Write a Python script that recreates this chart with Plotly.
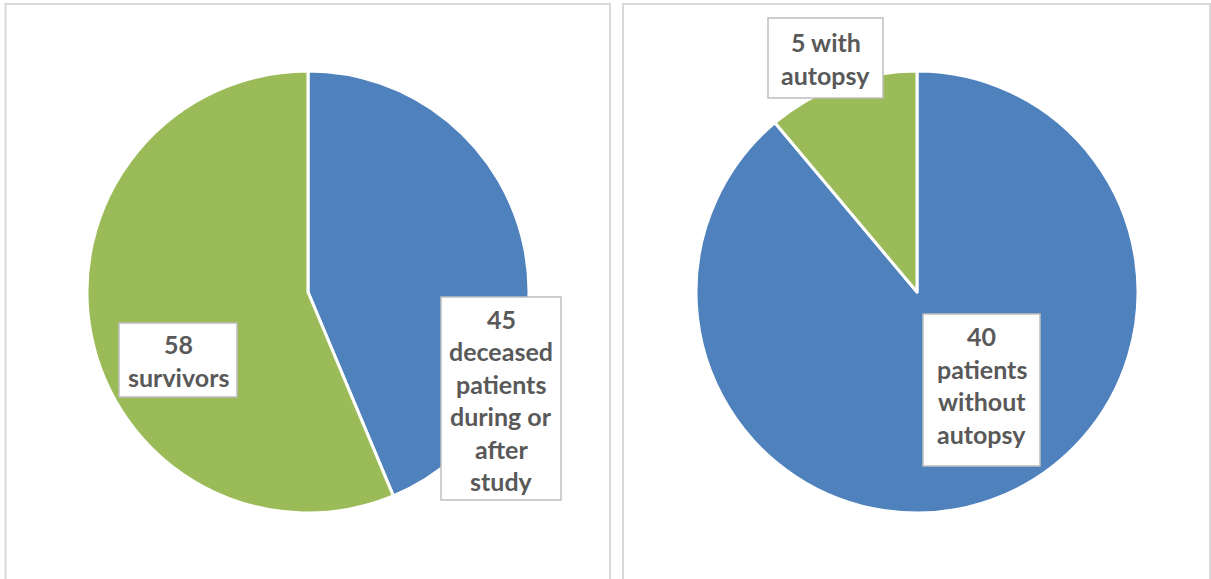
import plotly.graph_objects as go

# Patient outcome counts (left pie) and autopsy split of the deceased (right pie)
outcome_values = [45, 58]
outcome_labels = ["{}\ndeceased\npatients\nduring or\nafter\nstudy", "{}\nsurvivors"]
autopsy_values = [40, 5]
autopsy_labels = ["{}\npatients\nwithout\nautopsy", "{} with\nautopsy"]
slice_colors = ["#4F81BD", "#9BBB59"]

W, H = 1211, 579


def px(x):
    return x / W


def py(y):
    return 1 - y / H


fig = go.Figure()

# Pie placement in pixels: (centre x, centre y, radius)
pies = [
    (outcome_values, outcome_labels, (308, 292, 221)),
    (autopsy_values, autopsy_labels, (917, 292, 221)),
]
for values, labels, (cx, cy, r) in pies:
    fig.add_trace(go.Pie(
        values=values,
        labels=[t.format(v).replace("\n", " ") for t, v in zip(labels, values)],
        sort=False,
        direction="clockwise",
        rotation=0,
        marker=dict(colors=slice_colors, line=dict(color="white", width=3)),
        textinfo="none",
        hoverinfo="label+value",
        showlegend=False,
        domain=dict(x=[px(cx - r), px(cx + r)], y=[py(cy + r), py(cy - r)]),
    ))

# Chart-area frames
for x0, x1 in [(5.5, 610), (623, 1210)]:
    fig.add_shape(type="rect", xref="paper", yref="paper",
                  x0=px(x0), x1=px(x1), y0=py(H + 10), y1=py(4),
                  line=dict(color="#D9D9D9", width=2), fillcolor="rgba(0,0,0,0)",
                  layer="below")

# Data-label boxes: (left, top, right, bottom) and first-line centre, in pixels
label_boxes = [
    (outcome_values[0], outcome_labels[0], (441, 297, 561, 500), 318.5),
    (outcome_values[1], outcome_labels[1], (119, 323, 237, 397), 344),
    (autopsy_values[0], autopsy_labels[0], (923, 314, 1040, 466), 336),
    (autopsy_values[1], autopsy_labels[1], (768, 18, 883, 98), 42.5),
]
line_step = 32.5
for value, template, (l, t, rgt, b), first_y in label_boxes:
    fig.add_shape(type="rect", xref="paper", yref="paper",
                  x0=px(l), x1=px(rgt), y0=py(b), y1=py(t),
                  line=dict(color="#BFBFBF", width=1.5), fillcolor="white",
                  layer="above")
    lines = template.format(value).split("\n")
    xc = (l + rgt) / 2
    for i, line in enumerate(lines):
        fig.add_annotation(
            x=px(xc), y=py(first_y + i * line_step), xref="paper", yref="paper",
            text="<b>" + line + "</b>", showarrow=False,
            xanchor="center", yanchor="middle",
            font=dict(family="Lato", size=25, color="#595959"),
        )

fig.update_layout(
    width=W, height=H,
    margin=dict(l=0, r=0, t=0, b=0),
    paper_bgcolor="white",
    plot_bgcolor="white",
)

fig.write_html("out.html")
